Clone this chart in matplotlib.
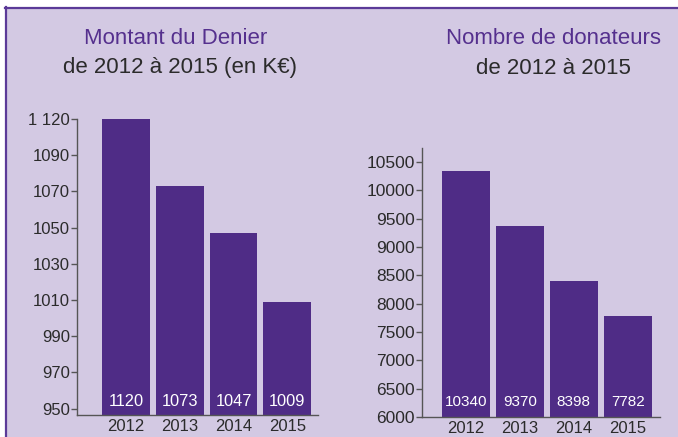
import numpy as np
import matplotlib
matplotlib.use("Agg")
import matplotlib.pyplot as plt
from matplotlib.patches import Rectangle
from matplotlib.lines import Line2D

plt.rcParams['font.family'] = ['Liberation Sans', 'DejaVu Sans']

years = ["2012", "2013", "2014", "2015"]
montant = [1120, 1073, 1047, 1009]
donateurs = [10340, 9370, 8398, 7782]

montant_ticks = [950, 970, 990, 1010, 1030, 1050, 1070, 1090, 1120]
montant_ticklabels = ["950", "970", "990", "1010", "1030", "1050", "1070", "1090", "1 120"]
donateurs_ticks = [6000, 6500, 7000, 7500, 8000, 8500, 9000, 9500, 10000, 10500]

bg = "#d3c9e3"
bar_col = "#4f2c86"
title_col = "#55308e"
txt_col = "#2b2b2b"
spine_col = "#555555"

fig = plt.figure(figsize=(6.78, 4.37), dpi=100)
fig.patch.set_facecolor("white")
W, H = 678, 437
fig.patches.append(Rectangle((5 / W, 0), 1 - 5 / W, 1 - 7 / H, transform=fig.transFigure,
                             facecolor=bg, edgecolor="none", zorder=-2))
fig.lines.append(Line2D([5 / W, 1], [1 - 7.5 / H, 1 - 7.5 / H], transform=fig.transFigure,
                        color="#5b3a98", lw=1.6, zorder=-1))
fig.lines.append(Line2D([5.5 / W, 5.5 / W], [0, 1 - 7 / H], transform=fig.transFigure,
                        color="#5b3a98", lw=1.6, zorder=-1))

# piecewise scale so the labels of the left axis are evenly spaced, as in the original
brk_v = [930] + montant_ticks + [1150]
brk_i = [-1] + list(range(len(montant_ticks))) + [len(montant_ticks)]
fwd = lambda v: np.interp(v, brk_v, brk_i)
inv = lambda v: np.interp(v, brk_i, brk_v)

x = np.arange(len(years))


def style(ax, ysize):
    ax.set_facecolor("none")
    for s in ["top", "right"]:
        ax.spines[s].set_visible(False)
    for s in ["left", "bottom"]:
        ax.spines[s].set_color(spine_col)
        ax.spines[s].set_linewidth(1.0)
    ax.tick_params(axis="y", length=4, width=1, color=spine_col, labelsize=ysize,
                   labelcolor=txt_col, pad=1)
    ax.tick_params(axis="x", length=0, labelsize=12, labelcolor=txt_col, pad=3)
    ax.set_xticks(x)
    ax.set_xticklabels(years)


ax1 = fig.add_axes([77 / W, 1 - 415 / H, 241 / W, 296 / H])
ax1.set_yscale("function", functions=(fwd, inv))
ax1.bar(x, montant, width=0.89, color=bar_col, zorder=2)
ax1.set_ylim(946.5, 1120)
ax1.set_xlim(-0.91, 3.57)
ax1.set_yticks(montant_ticks)
ax1.set_yticklabels(montant_ticklabels)
ax1.yaxis.set_minor_locator(matplotlib.ticker.NullLocator())
style(ax1, 12)
for i, v in enumerate(montant):
    ax1.annotate(str(v), xy=(i, 0), xycoords=ax1.get_xaxis_transform(),
                 xytext=(0, 10), textcoords="offset points", ha="center", va="center",
                 color="white", fontsize=11.8)

ax2 = fig.add_axes([422 / W, 1 - 417 / H, 238 / W, 269 / H])
ax2.bar(x, donateurs, width=0.89, color=bar_col, zorder=2)
ax2.set_ylim(6000, 10750)
ax2.set_xlim(-0.82, 3.6)
ax2.set_yticks(donateurs_ticks)
style(ax2, 12.5)
for i, v in enumerate(donateurs):
    ax2.annotate(str(v), xy=(i, 0), xycoords=ax2.get_xaxis_transform(),
                 xytext=(0, 10.5), textcoords="offset points", ha="center", va="center",
                 color="white", fontsize=11)

fig.text(176 / W, 1 - 38 / H, "Montant du Denier", ha="center", va="center",
         color=title_col, fontsize=16)
fig.text(180 / W, 1 - 68 / H, "de 2012 à 2015 (en K€)", ha="center", va="center",
         color=txt_col, fontsize=16)
fig.text(553 / W, 1 - 38 / H, "Nombre de donateurs", ha="center", va="center",
         color=title_col, fontsize=16)
fig.text(553 / W, 1 - 68 / H, "de 2012 à 2015", ha="center", va="center",
         color=txt_col, fontsize=16)

fig.savefig("out.png", dpi=100, facecolor=fig.get_facecolor())
